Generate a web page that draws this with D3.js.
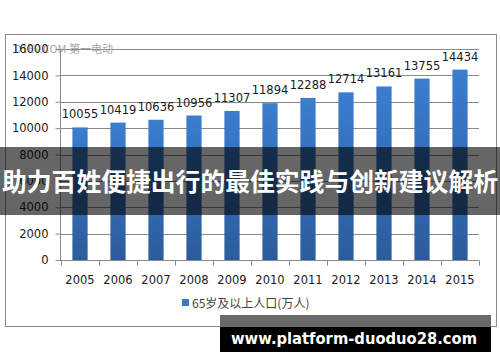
<!DOCTYPE html>
<html>
<head>
<meta charset="utf-8">
<script src="https://cdn.jsdelivr.net/npm/d3@7"></script>
<style>
  body { margin: 0; background: #fff; }
  svg { display: block; font-family: "Liberation Sans", "DejaVu Sans", sans-serif; }
</style>
</head>
<body>
<div id="chart"></div>
<script>

//******************************************************************************
//**  Data
//******************************************************************************
var years = ["2005","2006","2007","2008","2009","2010","2011","2012","2013","2014","2015"];
var population = [10055,10419,10636,10956,11307,11894,12288,12714,13161,13755,14434];
var yTicks = [0,2000,4000,6000,8000,10000,12000,14000,16000];
var seriesName = "65岁及以上人口(万人)";
var bannerText = "助力百姓便捷出行的最佳实践与创新建议解析";
var siteText = "www.platform-duoduo28.com";


var width = 500, height = 362;
var svg = d3.select("#chart").append("svg")
    .attr("width", width)
    .attr("height", height);

var defs = svg.append("defs");
var grad = defs.append("linearGradient")
    .attr("id", "barGrad")
    .attr("x1", 0).attr("y1", 0).attr("x2", 0).attr("y2", 1);
grad.append("stop").attr("offset", "0%").attr("stop-color", "#3b7dd0");
grad.append("stop").attr("offset", "100%").attr("stop-color", "#2c5c9b");


//chart frame
svg.append("rect")
    .attr("x", 5.5).attr("y", 34.5)
    .attr("width", 491).attr("height", 292)
    .attr("fill", "#fff")
    .attr("stroke", "#8c8c8c");


//**************************************************************************
//** Scales
//**************************************************************************
var x = d3.scaleBand()
    .domain(years)
    .range([61, 479])
    .paddingInner(0.6)
    .paddingOuter(0.3);

var xOuter = d3.scaleBand().domain(years).range([61, 479]);

var y = d3.scaleLinear()
    .domain([0, 16000])
    .range([260, 49]);


//gridlines
svg.append("g")
    .selectAll("line")
    .data(yTicks.slice(1))
    .join("line")
    .attr("x1", 61).attr("x2", 479)
    .attr("y1", d => Math.round(y(d)) + 0.5)
    .attr("y2", d => Math.round(y(d)) + 0.5)
    .attr("stroke", "#8a8a8a");


//top-left watermark
svg.append("text")
    .attr("x", 14).attr("y", 53)
    .attr("font-size", 11)
    .attr("fill", "#a8a8a8")
    .attr("font-family", "'Noto Sans CJK SC', sans-serif")
    .text("D1EV.COM 第一电动");


//y axis
var yAxis = svg.append("g")
    .attr("transform", "translate(60.5,0)")
    .call(d3.axisLeft(y).tickValues(yTicks).tickSize(5).tickPadding(7).tickFormat(d3.format("d")));
yAxis.select(".domain").attr("stroke", "#8a8a8a").attr("d", "M0," + y(16000) + "V" + y(0));
yAxis.selectAll(".tick line").attr("stroke", "#8a8a8a");
yAxis.selectAll(".tick text")
    .attr("font-size", 11.5)
    .attr("fill", "#1a1a1a")
    .attr("font-family", "'DejaVu Sans', sans-serif");


//bars
svg.append("g")
    .selectAll("rect")
    .data(population)
    .join("rect")
    .attr("x", (d, i) => x(years[i]))
    .attr("y", d => y(d))
    .attr("width", x.bandwidth())
    .attr("height", d => y(0) - y(d))
    .attr("fill", "url(#barGrad)");


//value labels
svg.append("g")
    .selectAll("text")
    .data(population)
    .join("text")
    .attr("x", (d, i) => x(years[i]) + x.bandwidth() / 2)
    .attr("y", d => y(d) - 9)
    .attr("text-anchor", "middle")
    .attr("font-size", 11.5)
    .attr("fill", "#1a1a1a")
    .attr("font-family", "'DejaVu Sans', sans-serif")
    .text(d => d);


//x axis
var xAxisG = svg.append("g").attr("transform", "translate(0,260.5)");
xAxisG.append("line")
    .attr("x1", 60).attr("x2", 479)
    .attr("stroke", "#8a8a8a");
xAxisG.selectAll(".tk")
    .data(years.concat(["end"]))
    .join("line")
    .attr("x1", (d, i) => i < years.length ? Math.round(xOuter(d)) + 0.5 : 479.5)
    .attr("x2", (d, i) => i < years.length ? Math.round(xOuter(d)) + 0.5 : 479.5)
    .attr("y1", 0).attr("y2", 5)
    .attr("stroke", "#8a8a8a");
xAxisG.selectAll("text")
    .data(years)
    .join("text")
    .attr("x", d => xOuter(d) + xOuter.bandwidth() / 2)
    .attr("y", 23)
    .attr("text-anchor", "middle")
    .attr("font-size", 11.5)
    .attr("fill", "#1a1a1a")
    .attr("font-family", "'DejaVu Sans', sans-serif")
    .text(d => d);


//legend
svg.append("rect")
    .attr("x", 182).attr("y", 299)
    .attr("width", 7).attr("height", 7)
    .attr("fill", "#3b78c6");
svg.append("text")
    .attr("x", 192).attr("y", 307.5)
    .attr("font-size", 12)
    .attr("fill", "#444")
    .attr("font-family", "'Noto Sans CJK SC', sans-serif")
    .text(seriesName);


//**************************************************************************
//** Overlays
//**************************************************************************
svg.append("rect")
    .attr("x", 0).attr("y", 147)
    .attr("width", width).attr("height", 68)
    .attr("fill", "rgba(0,0,0,0.6)");

svg.append("text")
    .attr("x", 250).attr("y", 191)
    .attr("text-anchor", "middle")
    .attr("font-size", 24.5)
    .attr("font-weight", "bold")
    .attr("fill", "#fff")
    .attr("font-family", "'Noto Sans CJK SC', sans-serif")
    .attr("textLength", 496)
    .attr("lengthAdjust", "spacingAndGlyphs")
    .text(bannerText);

svg.append("rect")
    .attr("x", 220).attr("y", 315)
    .attr("width", 271).attr("height", 12)
    .attr("fill", "#696969");
svg.append("rect")
    .attr("x", 220).attr("y", 327)
    .attr("width", 271).attr("height", 25)
    .attr("fill", "#000");

svg.append("text")
    .attr("x", 354).attr("y", 344)
    .attr("text-anchor", "middle")
    .attr("font-size", 16.5)
    .attr("font-weight", "bold")
    .attr("fill", "#fff")
    .attr("font-family", "'DejaVu Sans', sans-serif")
    .attr("textLength", 246)
    .attr("lengthAdjust", "spacingAndGlyphs")
    .text(siteText);

</script>
</body>
</html>
